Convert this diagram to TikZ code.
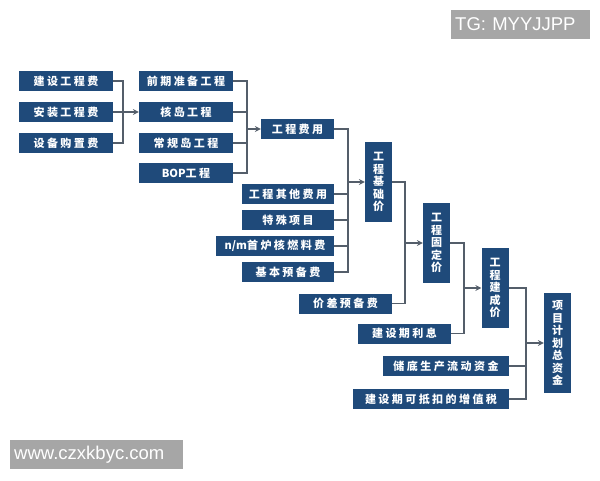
\documentclass[tikz,border=0pt]{standalone}
\usepackage{fontspec}
\usepackage{tikz}
\usetikzlibrary{arrows,calc}
\newfontfamily\cjk{Noto Sans CJK SC}[LetterSpace=22]
\newfontfamily\wmfont{Liberation Sans}
\newcommand{\lat}[1]{{\addfontfeature{LetterSpace=0}#1}}
\definecolor{boxblue}{RGB}{31,74,122}
\definecolor{linegray}{RGB}{84,94,106}
\definecolor{wmgray}{RGB}{166,166,166}
\tikzset{
  cbox/.style={fill=boxblue,text=white,inner sep=0pt,minimum height=20*0.3mm,
    font=\cjk\bfseries\fontsize{9.4}{10.7}\selectfont},
  vbox/.style={cbox,align=center,minimum width=27*0.3mm},
  conn/.style={draw=linegray,line width=1.2pt},
  wmark/.style={fill=wmgray,text=white,anchor=west,inner ysep=0pt,inner xsep=4*0.3mm,
    minimum height=29*0.3mm,align=left,font=\wmfont\fontsize{15.8}{16}\selectfont}
}
\begin{document}
\begin{tikzpicture}[x=0.3mm,y=-0.3mm,>=stealth]
\useasboundingbox (0,0) rectangle (600,480);
%first column
\node[cbox,minimum width=94*0.3mm](jsgcf) at (66,81){建设工程费};
\node[cbox,minimum width=94*0.3mm](azgcf) at (66,112){安装工程费};
\node[cbox,minimum width=94*0.3mm](sbgzf) at (66,143){设备购置费};
%second column
\node[cbox,minimum width=94*0.3mm](qqzb) at (186,81){前期准备工程};
\node[cbox,minimum width=94*0.3mm](hdgc) at (186,112){核岛工程};
\node[cbox,minimum width=94*0.3mm](cgdgc) at (186,143){常规岛工程};
\node[cbox,minimum width=94*0.3mm](bopgc) at (186,173){\lat{BOP}工程};
\node[cbox,minimum width=73*0.3mm](gcfy) at (297.5,129){工程费用};
%other costs
\node[cbox,minimum width=92*0.3mm](gcqt) at (288,194){工程其他费用};
\node[cbox,minimum width=92*0.3mm](tsxm) at (288,220){特殊项目};
\node[cbox,minimum width=118*0.3mm](slhr) at (275,246){\lat{n/m}首炉核燃料费};
\node[cbox,minimum width=92*0.3mm](jbyb) at (288,272){基本预备费};
\node[vbox,minimum height=80*0.3mm](gcjc) at (378.5,182){工\\程\\基\\础\\价};
\node[cbox,minimum width=93*0.3mm](jcyb) at (345.5,303.5){价差预备费};
\node[vbox,minimum height=80*0.3mm](gcgd) at (436.5,243){工\\程\\固\\定\\价};
\node[cbox,minimum width=93*0.3mm](jslx) at (404.5,333.5){建设期利息};
\node[vbox,minimum height=80*0.3mm](gcjcj) at (495,288){工\\程\\建\\成\\价};
\node[cbox,minimum width=126*0.3mm](ldzj) at (446,366){储底生产流动资金};
\node[cbox,minimum width=156*0.3mm](zzs) at (431,399){建设期可抵扣的增值税};
\node[vbox,minimum height=100*0.3mm](xmzj) at (557.5,343){项\\目\\计\\划\\总\\资\\金};
%buses
\coordinate (m1) at (123,0);
\coordinate (m2) at (247,0);
\coordinate (m3) at (348,0);
\coordinate (m4) at (405,0);
\coordinate (m5) at (464,0);
\coordinate (m6) at (526,0);
\draw[conn](jsgcf.east)-|(m1|-sbgzf.east)--(sbgzf.east);
\draw[conn,->](azgcf.east)--(hdgc.west);
\draw[conn](qqzb.east)-|(m2|-bopgc.east)--(bopgc.east);
\draw[conn](hdgc.east)--(m2|-hdgc.east) (cgdgc.east)--(m2|-cgdgc.east);
\draw[conn,->](m2|-gcfy.west)--(gcfy.west);
\draw[conn](gcfy.east)-|(m3|-jbyb.east)--(jbyb.east);
\draw[conn](gcqt.east)--(m3|-gcqt.east) (tsxm.east)--(m3|-tsxm.east) (slhr.east)--(m3|-slhr.east);
\draw[conn,->](m3|-gcjc.west)--(gcjc.west);
\draw[conn](gcjc.east)-|(m4|-jcyb.east)--(jcyb.east);
\draw[conn,->](m4|-gcgd.west)--(gcgd.west);
\draw[conn](gcgd.east)-|(m5|-jslx.east)--(jslx.east);
\draw[conn,->](m5|-gcjcj.west)--(gcjcj.west);
\draw[conn](gcjcj.east)-|(m6|-zzs.east)--(zzs.east);
\draw[conn](ldzj.east)--(m6|-ldzj.east);
\draw[conn,->](m6|-xmzj.west)--(xmzj.west);
%watermarks
\node[wmark,text width=131*0.3mm](tg) at (451,24.5){TG: MYYJJPP};
\node[wmark,text width=165*0.3mm](www) at (10,454.5){www.czxkbyc.com};
\end{tikzpicture}
\end{document}
